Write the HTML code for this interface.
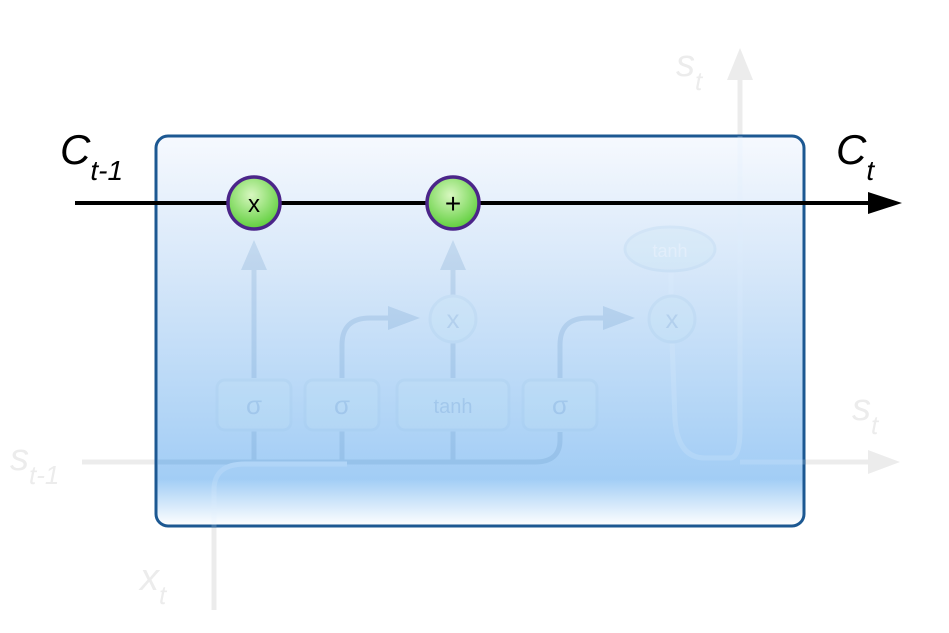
<!DOCTYPE html>
<html><head><meta charset="utf-8"><style>
html,body{margin:0;padding:0;background:#fff;width:949px;height:633px;overflow:hidden}
svg{display:block;font-family:"Liberation Sans",sans-serif}
</style></head><body>
<svg width="949" height="633" viewBox="0 0 949 633">
<defs>
<linearGradient id="bg" x1="0" y1="0" x2="0" y2="1">
<stop offset="0" stop-color="#f6f9fe"/>
<stop offset="0.35" stop-color="#d6e7f9"/>
<stop offset="0.88" stop-color="#a2cdf5"/>
<stop offset="1" stop-color="#ffffff"/>
</linearGradient>
<radialGradient id="gr" cx="0.45" cy="0.35" r="0.65">
<stop offset="0" stop-color="#d8f7c0"/>
<stop offset="1" stop-color="#5fcf3c"/>
</radialGradient>
</defs>
<g fill="none" stroke="#ececec" stroke-width="5">
<line x1="82" y1="462" x2="157" y2="462"/>
<line x1="740" y1="135" x2="740" y2="70"/>
<line x1="805" y1="462" x2="870" y2="462"/>
<line x1="214" y1="527" x2="214" y2="610"/>
</g>
<polygon points="727,80 753,80 740,48" fill="#ececec"/>
<polygon points="868,450 868,474 900,462" fill="#ececec"/>
<text x="10" y="470" font-size="38" font-style="italic" fill="#ececec">s<tspan font-size="26" dy="14">t-1</tspan></text>
<text x="676" y="76" font-size="38" font-style="italic" fill="#ececec">s<tspan font-size="26" dy="14">t</tspan></text>
<text x="852" y="420" font-size="38" font-style="italic" fill="#ececec">s<tspan font-size="26" dy="14">t</tspan></text>
<text x="140" y="590" font-size="38" font-style="italic" fill="#ececec">x<tspan font-size="26" dy="14">t</tspan></text>
<rect x="156" y="136" width="648" height="390" rx="12" fill="url(#bg)" stroke="#1c5892" stroke-width="3"/>
<g opacity="0.2">
<g fill="none" stroke="#5b8fc2" stroke-width="5">
<path d="M157 462 H535 Q560 462 560 440 V432"/>
<line x1="254" y1="462" x2="254" y2="430"/><line x1="254" y1="378" x2="254" y2="260"/>
<line x1="342" y1="462" x2="342" y2="430"/><path d="M342 378 V345 Q342 318 370 318 H395"/>
<line x1="453" y1="462" x2="453" y2="430"/><line x1="453" y1="378" x2="453" y2="340"/><line x1="453" y1="298" x2="453" y2="260"/>
<path d="M560 378 V345 Q560 318 588 318 H610"/>
</g>
<g fill="none" stroke="#e0f0ff" stroke-width="5">
<path d="M214 527 V490 Q214 464 245 464 H347"/>
<path d="M672 340 L675 420 Q678 458 705 458 H730 Q740 458 740 430 V136"/>
<line x1="740" y1="462" x2="805" y2="462"/>
<line x1="671" y1="270" x2="671" y2="298"/>
</g>
<polygon points="241,270 267,270 254,240" fill="#5b8fc2"/>
<polygon points="440,270 466,270 453,240" fill="#5b8fc2"/>
<polygon points="388,306 388,330 420,318" fill="#5b8fc2"/>
<polygon points="603,306 603,330 635,318" fill="#5b8fc2"/>
<g fill="#c4e6f4" stroke="#9fc8e8" stroke-width="3">
<rect x="217" y="380" width="74" height="50" rx="8"/>
<rect x="305" y="380" width="74" height="50" rx="8"/>
<rect x="397" y="380" width="112" height="50" rx="8"/>
<rect x="523" y="380" width="74" height="50" rx="8"/>
<circle cx="453" cy="319" r="23"/>
<circle cx="672" cy="319" r="23"/>
<ellipse cx="670" cy="249" rx="45" ry="22"/>
</g>
<g fill="#5b8fc2" font-size="26" text-anchor="middle">
<text x="254" y="414">σ</text><text x="342" y="414">σ</text><text x="560" y="414">σ</text>
<text x="453" y="413" font-size="20">tanh</text>
<text x="453" y="328">x</text><text x="672" y="328">x</text>
<text x="670" y="257" font-size="18" fill="#ffffff">tanh</text>
</g>
</g>
<line x1="75" y1="203" x2="872" y2="203" stroke="#000" stroke-width="4"/>
<polygon points="868,192 868,214 902,203" fill="#000"/>
<g>
<circle cx="254" cy="203" r="26" fill="url(#gr)" stroke="#4b2589" stroke-width="3.5"/>
<text x="254" y="212" font-size="24" text-anchor="middle" fill="#000">x</text>
</g>
<g>
<circle cx="453" cy="203" r="26" fill="url(#gr)" stroke="#4b2589" stroke-width="3.5"/>
<text x="453" y="213" font-size="28" text-anchor="middle" fill="#000">+</text>
</g>
<text x="60" y="164" font-size="42" font-style="italic" fill="#000">C<tspan font-size="28" dy="16">t-1</tspan></text>
<text x="836" y="164" font-size="42" font-style="italic" fill="#000">C<tspan font-size="28" dy="16">t</tspan></text>
</svg>
</body></html>
